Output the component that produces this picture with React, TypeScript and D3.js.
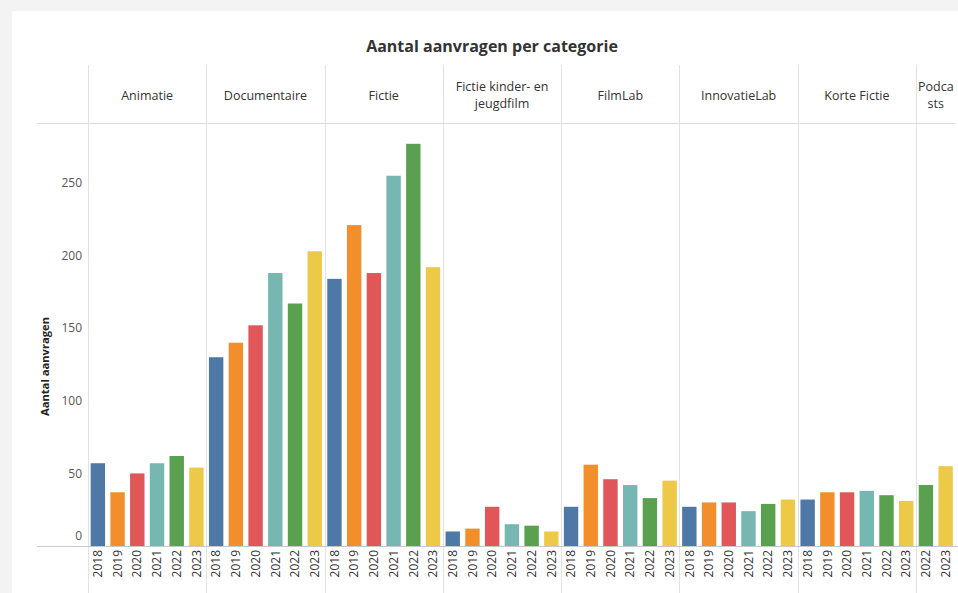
import React from "react";
import * as d3 from "d3";

const categories = ["Animatie", "Documentaire", "Fictie", "Fictie kinder- en jeugdfilm", "FilmLab", "InnovatieLab", "Korte Fictie", "Podcasts"];
const categoryLines: string[][] = [["Animatie"], ["Documentaire"], ["Fictie"], ["Fictie kinder- en", "jeugdfilm"], ["FilmLab"], ["InnovatieLab"], ["Korte Fictie"], ["Podca", "sts"]];
const years = ["2018", "2019", "2020", "2021", "2022", "2023"];
const animatie = [57, 37, 50, 57, 62, 54];
const documentaire = [130, 140, 152, 188, 167, 203];
const fictie = [184, 221, 188, 255, 277, 192];
const kinder = [10, 12, 27, 15, 14, 10];
const filmlab = [27, 56, 46, 42, 33, 45];
const innovatielab = [27, 30, 30, 24, 29, 32];
const korteFictie = [32, 37, 37, 38, 35, 31];
const podcastYears = ["2022", "2023"];
const podcasts = [42, 55];
const yTicks = [0, 50, 100, 150, 200, 250];
const yearColors = ["#4e79a7", "#f28e2b", "#e15759", "#76b7b2", "#59a14f", "#edc948"];

const seriesByCat: { years: string[]; values: number[] }[] = [
  { years, values: animatie },
  { years, values: documentaire },
  { years, values: fictie },
  { years, values: kinder },
  { years, values: filmlab },
  { years, values: innovatielab },
  { years, values: korteFictie },
  { years: podcastYears, values: podcasts },
];

type Bar = { key: string; cat: number; year: string; value: number };
const bars: Bar[] = [];
seriesByCat.forEach((s, ci) => {
  s.years.forEach((yr, i) => bars.push({ key: ci + "|" + yr, cat: ci, year: yr, value: s.values[i] }));
});

const W = 958;
const H = 593;
const FONT = "'Open Sans', 'Noto Sans', sans-serif";

export default function App() {
  const x = d3
    .scaleBand<string>()
    .domain(bars.map((b) => b.key))
    .range([88, 955.5])
    .paddingInner(0.27)
    .paddingOuter(0.135);
  const y = d3.scaleLinear().domain([0, 250]).range([546, 546 - 250 * 1.452]);
  const color = d3.scaleOrdinal<string, string>().domain(years).range(yearColors);
  const step = x.step();
  const half = (step * x.paddingInner()) / 2;

  const panes = categories.map((c, ci) => {
    const ks = bars.filter((b) => b.cat === ci);
    const x0 = (x(ks[0].key) as number) - half;
    const x1 = (x(ks[ks.length - 1].key) as number) + x.bandwidth() + half;
    return { c, ci, x0, x1 };
  });

  return (
    <div style={{ position: "fixed", left: 0, top: 0, width: W, height: H }}>
      <svg width={W} height={H} style={{ display: "block", fontFamily: FONT }}>
        <rect x={0} y={0} width={W} height={H} fill="#f3f3f3" />
        <rect x={12} y={11} width={W - 12} height={H - 11} fill="#ffffff" />
        <text x={492} y={52} textAnchor="middle" fontSize={16} fontWeight={700} fill="#333">
          Aantal aanvragen per categorie
        </text>
        {/* header bottom line */}
        <line x1={37} x2={955} y1={123.5} y2={123.5} stroke="#dcdcdc" strokeWidth={1} />
        {/* pane separators */}
        {panes.map((p) => (
          <line key={"sep" + p.ci} x1={Math.round(p.x0) + 0.5} x2={Math.round(p.x0) + 0.5} y1={65} y2={593} stroke="#e2e2e2" strokeWidth={1} />
        ))}
        {/* headers */}
        {panes.map((p) => {
          const lines = categoryLines[p.ci];
          const cx = (p.x0 + p.x1) / 2;
          const startY = lines.length === 1 ? 99.5 : 90.5;
          return (
            <text key={"h" + p.ci} textAnchor="middle" fontSize={12.5} fill="#333">
              {lines.map((l, i) => (
                <tspan key={i} x={cx} y={startY + i * 17}>
                  {l}
                </tspan>
              ))}
            </text>
          );
        })}
        {/* bars */}
        {bars.map((b) => (
          <rect key={b.key} x={x(b.key)} width={x.bandwidth()} y={y(b.value)} height={y(0) - y(b.value)} fill={color(b.year)} />
        ))}
        {/* baseline */}
        <line x1={37} x2={958} y1={y(0) + 0.5} y2={y(0) + 0.5} stroke="#c8c8c8" strokeWidth={1} />
        {/* y ticks */}
        {yTicks.map((t) => (
          <text key={"t" + t} x={82} y={t === 0 ? y(t) - 10 : y(t)} dy="0.35em" textAnchor="end" fontSize={12} fill="#555">
            {t}
          </text>
        ))}
        <text transform={`translate(49,${(y(0) + y(250)) / 2 + 2}) rotate(-90)`} textAnchor="middle" fontSize={11.2} fontWeight={700} fill="#222">
          Aantal aanvragen
        </text>
        {/* x labels */}
        {bars.map((b) => {
          const cx = (x(b.key) as number) + x.bandwidth() / 2;
          return (
            <text key={"x" + b.key} transform={`translate(${cx},${y(0) + 4}) rotate(-90)`} textAnchor="end" dy="0.35em" fontSize={12} fill="#333">
              {b.year}
            </text>
          );
        })}
      </svg>
    </div>
  );
}
